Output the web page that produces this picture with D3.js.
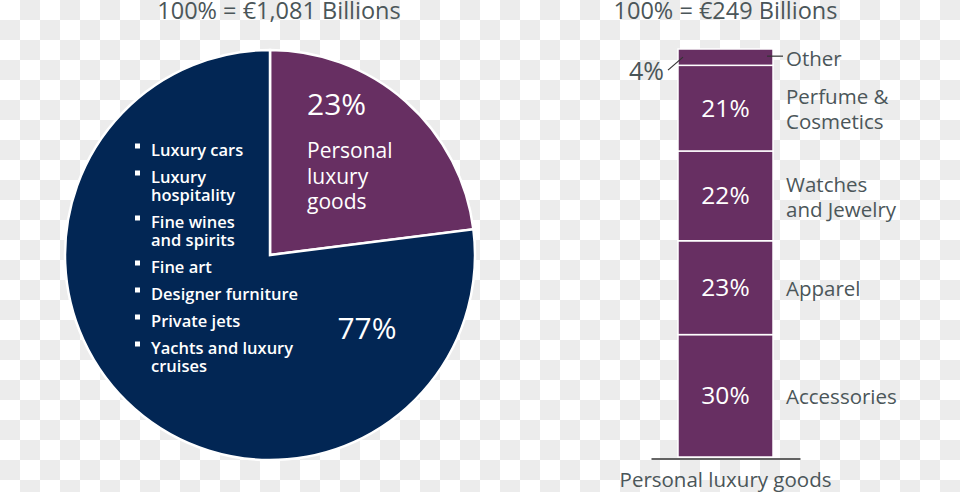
<!DOCTYPE html>
<html>
<head>
<meta charset="utf-8">
<script src="https://cdn.jsdelivr.net/npm/d3@7"></script>
<style>
  body { margin: 0; background: #fff; }
  svg { display: block; font-family: "Open Sans", "Noto Sans", sans-serif; }
</style>
</head>
<body>
<svg width="960" height="492"></svg>
<script>
// pie: share of total luxury market
const pieTitle = "100% = €1,081 Billions";
const pieCats = ["Personal luxury goods", "Other luxury"];
const pieValues = [23, 77];
const pieLabelLines = ["Personal", "luxury", "goods"];
const bulletItems = [
  ["Luxury cars"],
  ["Luxury", "hospitality"],
  ["Fine wines", "and spirits"],
  ["Fine art"],
  ["Designer furniture"],
  ["Private jets"],
  ["Yachts and luxury", "cruises"]
];

// stacked bar: personal luxury goods breakdown
const barTitle = "100% = €249 Billions";
const barAxisLabel = "Personal luxury goods";
const barCats = ["Accessories", "Apparel", "Watches and Jewelry", "Perfume & Cosmetics", "Other"];
const barValues = [30, 23, 22, 21, 4];
const barLabelLines = [["Accessories"], ["Apparel"], ["Watches", "and Jewelry"], ["Perfume &", "Cosmetics"], ["Other"]];

const navy = "#022654", purple = "#672f62", grey = "#4b5659";

let svg = d3.select("svg");
let W = +svg.attr("width"), H = +svg.attr("height");

// checkered background
let defs = svg.append("defs");
let pat = defs.append("pattern").attr("id", "checker")
  .attr("width", 40).attr("height", 40).attr("patternUnits", "userSpaceOnUse");
pat.append("rect").attr("width", 40).attr("height", 40).attr("fill", "#fff");
pat.append("rect").attr("x", 20).attr("y", 0).attr("width", 20).attr("height", 20).attr("fill", "#ececec");
pat.append("rect").attr("x", 0).attr("y", 20).attr("width", 20).attr("height", 20).attr("fill", "#ececec");
svg.append("rect").attr("width", W).attr("height", H).attr("fill", "url(#checker)");

// ---- pie ----
let cx = 270, cy = 255, R = 205;
let pieG = svg.append("g").attr("transform", "translate(" + cx + "," + cy + ")");

let pie = d3.pie().sort(null).value(d => d);
let arc = d3.arc().innerRadius(0).outerRadius(R);

pieG.selectAll("path.slice")
  .data(pie(pieValues))
  .enter().append("path")
  .attr("class", "slice")
  .attr("d", arc)
  .attr("fill", (d, i) => i === 0 ? purple : navy)
  .attr("stroke", "#fff")
  .attr("stroke-width", 2.5)
  .attr("stroke-linejoin", "miter");

svg.append("text")
  .attr("x", 279).attr("y", 19)
  .attr("text-anchor", "middle")
  .attr("fill", grey)
  .style("font-size", "23.5px")
  .text(pieTitle);

// purple slice labels
pieG.append("text")
  .attr("x", 37).attr("y", -140)
  .attr("fill", "#fff")
  .style("font-size", "30px")
  .text(pieValues[0] + "%");

pieG.selectAll("text.plabel")
  .data(pieLabelLines)
  .enter().append("text")
  .attr("class", "plabel")
  .attr("x", 37)
  .attr("y", (d, i) => -97 + i * 25.5)
  .attr("fill", "#fff")
  .style("font-size", "21px")
  .text(d => d);

// navy slice label
pieG.append("text")
  .attr("x", 97).attr("y", 84)
  .attr("text-anchor", "middle")
  .attr("fill", "#fff")
  .style("font-size", "30px")
  .text(pieValues[1] + "%");

// bullet list
let listG = svg.append("g").attr("transform", "translate(135,156)");
let lineH = 18, itemGap = 9;
let yPos = 0;
bulletItems.forEach(function (lines) {
  listG.append("rect")
    .attr("x", 0).attr("y", yPos - 12.5)
    .attr("width", 5).attr("height", 5)
    .attr("fill", "#fff");
  lines.forEach(function (ln, j) {
    listG.append("text")
      .attr("x", 16).attr("y", yPos + j * lineH)
      .attr("fill", "#fff")
      .style("font-size", "16.5px")
      .style("font-weight", 600)
      .text(ln);
  });
  yPos += lines.length * lineH + itemGap;
});

// ---- stacked bar ----
let barX = d3.scaleBand().domain([barAxisLabel]).range([651, 800]).paddingInner(0).paddingOuter(0.284);
let barY = d3.scaleLinear().domain([0, 100]).range([457, 49]);

let stacked = [];
let acc = 0;
barValues.forEach(function (v, i) {
  stacked.push({ cat: barCats[i], value: v, y0: acc, y1: acc + v, lines: barLabelLines[i] });
  acc += v;
});

let barG = svg.append("g");
let bx = barX(barAxisLabel), bw = barX.bandwidth();

barG.selectAll("rect.seg")
  .data(stacked)
  .enter().append("rect")
  .attr("class", "seg")
  .attr("x", bx)
  .attr("width", bw)
  .attr("y", d => barY(d.y1))
  .attr("height", d => barY(d.y0) - barY(d.y1))
  .attr("fill", purple)
  .attr("stroke", "#fff")
  .attr("stroke-width", 1.5);

// baseline axis
let xAxis = barG.append("g")
  .attr("transform", "translate(0," + 458.5 + ")")
  .call(d3.axisBottom(barX).tickSize(0).tickPadding(10));
xAxis.select(".domain").attr("stroke", "#333").attr("stroke-width", 1.5);
xAxis.selectAll("text")
  .attr("fill", grey)
  .attr("dy", "0.9em")
  .style("font-size", "20.5px")
  .style("font-family", "'Open Sans', sans-serif");

svg.append("text")
  .attr("x", bx + bw / 2).attr("y", 19)
  .attr("text-anchor", "middle")
  .attr("fill", grey)
  .style("font-size", "23.5px")
  .text(barTitle);

// percentage labels inside segments (not for the thin top one)
barG.selectAll("text.pct")
  .data(stacked.filter(d => d.value >= 10))
  .enter().append("text")
  .attr("class", "pct")
  .attr("x", bx + bw / 2)
  .attr("y", d => barY((d.y0 + d.y1) / 2) + 8.5)
  .attr("text-anchor", "middle")
  .attr("fill", "#fff")
  .style("font-size", "24.5px")
  .text(d => d.value + "%");

// category labels to the right
stacked.forEach(function (d) {
  let mid = barY((d.y0 + d.y1) / 2);
  let first = d.lines.length > 1 ? mid - 4 : mid + 8.5;
  d.lines.forEach(function (ln, j) {
    barG.append("text")
      .attr("x", bx + bw + 13)
      .attr("y", first + j * 25)
      .attr("fill", grey)
      .style("font-size", "20.5px")
      .text(ln);
  });
});

// small segment callouts
let other = stacked[stacked.length - 1];
let oMid = barY((other.y0 + other.y1) / 2);
barG.append("line")
  .attr("x1", bx + bw - 6).attr("x2", bx + bw + 10)
  .attr("y1", oMid - 1).attr("y2", oMid - 1)
  .attr("stroke", "#333").attr("stroke-width", 1.2);
barG.append("line")
  .attr("x1", bx + 5).attr("y1", oMid)
  .attr("x2", bx - 10).attr("y2", oMid + 13)
  .attr("stroke", "#333").attr("stroke-width", 1.2);
barG.append("text")
  .attr("x", bx - 14).attr("y", oMid + 23)
  .attr("text-anchor", "end")
  .attr("fill", grey)
  .style("font-size", "25px")
  .text(other.value + "%");
</script>
</body>
</html>
